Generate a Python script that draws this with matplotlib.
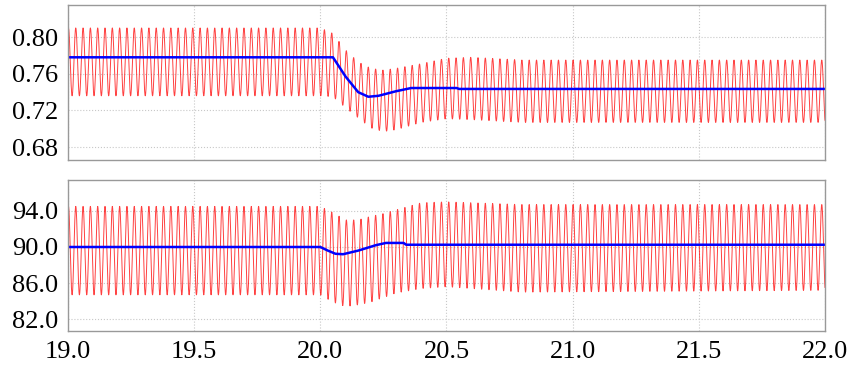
import numpy as np
import matplotlib
matplotlib.use('Agg')
import matplotlib.pyplot as plt

# envelope of the oscillating (red) signals
env_t = [19.0, 20.0, 20.05, 20.1, 20.15, 20.2, 20.25, 20.3, 20.4, 20.5, 20.6, 20.8, 22.0]
top_upper = [0.810, 0.810, 0.804, 0.786, 0.773, 0.766, 0.764, 0.766, 0.771, 0.777, 0.778, 0.775, 0.775]
top_lower = [0.736, 0.736, 0.735, 0.723, 0.712, 0.701, 0.697, 0.699, 0.707, 0.711, 0.710, 0.707, 0.707]
bot_upper = [94.5, 94.5, 93.8, 93.0, 93.0, 93.4, 93.7, 94.1, 94.9, 95.0, 94.9, 94.7, 94.7]
bot_lower = [84.7, 84.7, 83.9, 83.4, 83.6, 83.9, 84.4, 84.9, 85.4, 85.6, 85.4, 85.0, 85.2]
osc_freq = 34.5  # apparent cycles per second

# mean (blue) signals
top_mean_t = [19.0, 20.05, 20.1, 20.15, 20.19, 20.23, 20.3, 20.36, 20.54, 20.55, 22.0]
top_mean = [0.778, 0.778, 0.757, 0.740, 0.735, 0.736, 0.741, 0.7445, 0.7445, 0.7435, 0.7435]
bot_mean_t = [19.0, 20.0, 20.03, 20.06, 20.09, 20.15, 20.22, 20.26, 20.33, 20.34, 22.0]
bot_mean = [90.0, 90.0, 89.6, 89.25, 89.2, 89.6, 90.2, 90.45, 90.45, 90.25, 90.25]

x_ticks = [19.0, 19.5, 20.0, 20.5, 21.0, 21.5, 22.0]
top_ticks = [0.68, 0.72, 0.76, 0.80]
bot_ticks = [82.0, 86.0, 90.0, 94.0]

plt.rcParams['font.family'] = ['Liberation Serif', 'DejaVu Serif']
plt.rcParams['font.size'] = 19

t = np.linspace(19.0, 22.0, 6000)
carrier = np.sin(2 * np.pi * osc_freq * (t - 19.0) + 1.2)


def osc(upper, lower):
    up = np.interp(t, env_t, upper)
    lo = np.interp(t, env_t, lower)
    return (up + lo) / 2 + (up - lo) / 2 * carrier


fig = plt.figure(figsize=(8.47, 3.67), dpi=100)
ax1 = fig.add_axes([0.0803, 0.564, 0.8937, 0.4223])
ax2 = fig.add_axes([0.0803, 0.0981, 0.8937, 0.411])

ax1.plot(t, osc(top_upper, top_lower), color='red', lw=0.7, alpha=0.75)
ax1.plot(top_mean_t, top_mean, color='blue', lw=1.8)
ax1.set_ylim(0.666, 0.835)
ax1.set_yticks(top_ticks)
ax1.set_yticklabels(['%.2f' % v for v in top_ticks])

ax2.plot(t, osc(bot_upper, bot_lower), color='red', lw=0.7, alpha=0.75)
ax2.plot(bot_mean_t, bot_mean, color='blue', lw=1.8)
ax2.set_ylim(80.7, 97.4)
ax2.set_yticks(bot_ticks)
ax2.set_yticklabels(['%.1f' % v for v in bot_ticks])

for ax in (ax1, ax2):
    ax.set_xlim(19.0, 22.0)
    ax.set_xticks(x_ticks)
    ax.grid(True, color='#c8c8c8', linestyle=':', linewidth=0.8)
    ax.tick_params(length=0, pad=7)
    for s in ax.spines.values():
        s.set_color('#999999')
        s.set_linewidth(1.0)

ax1.set_xticklabels([])
ax2.set_xticklabels(['%.1f' % v for v in x_ticks])

fig.savefig('out.png', dpi=100)
